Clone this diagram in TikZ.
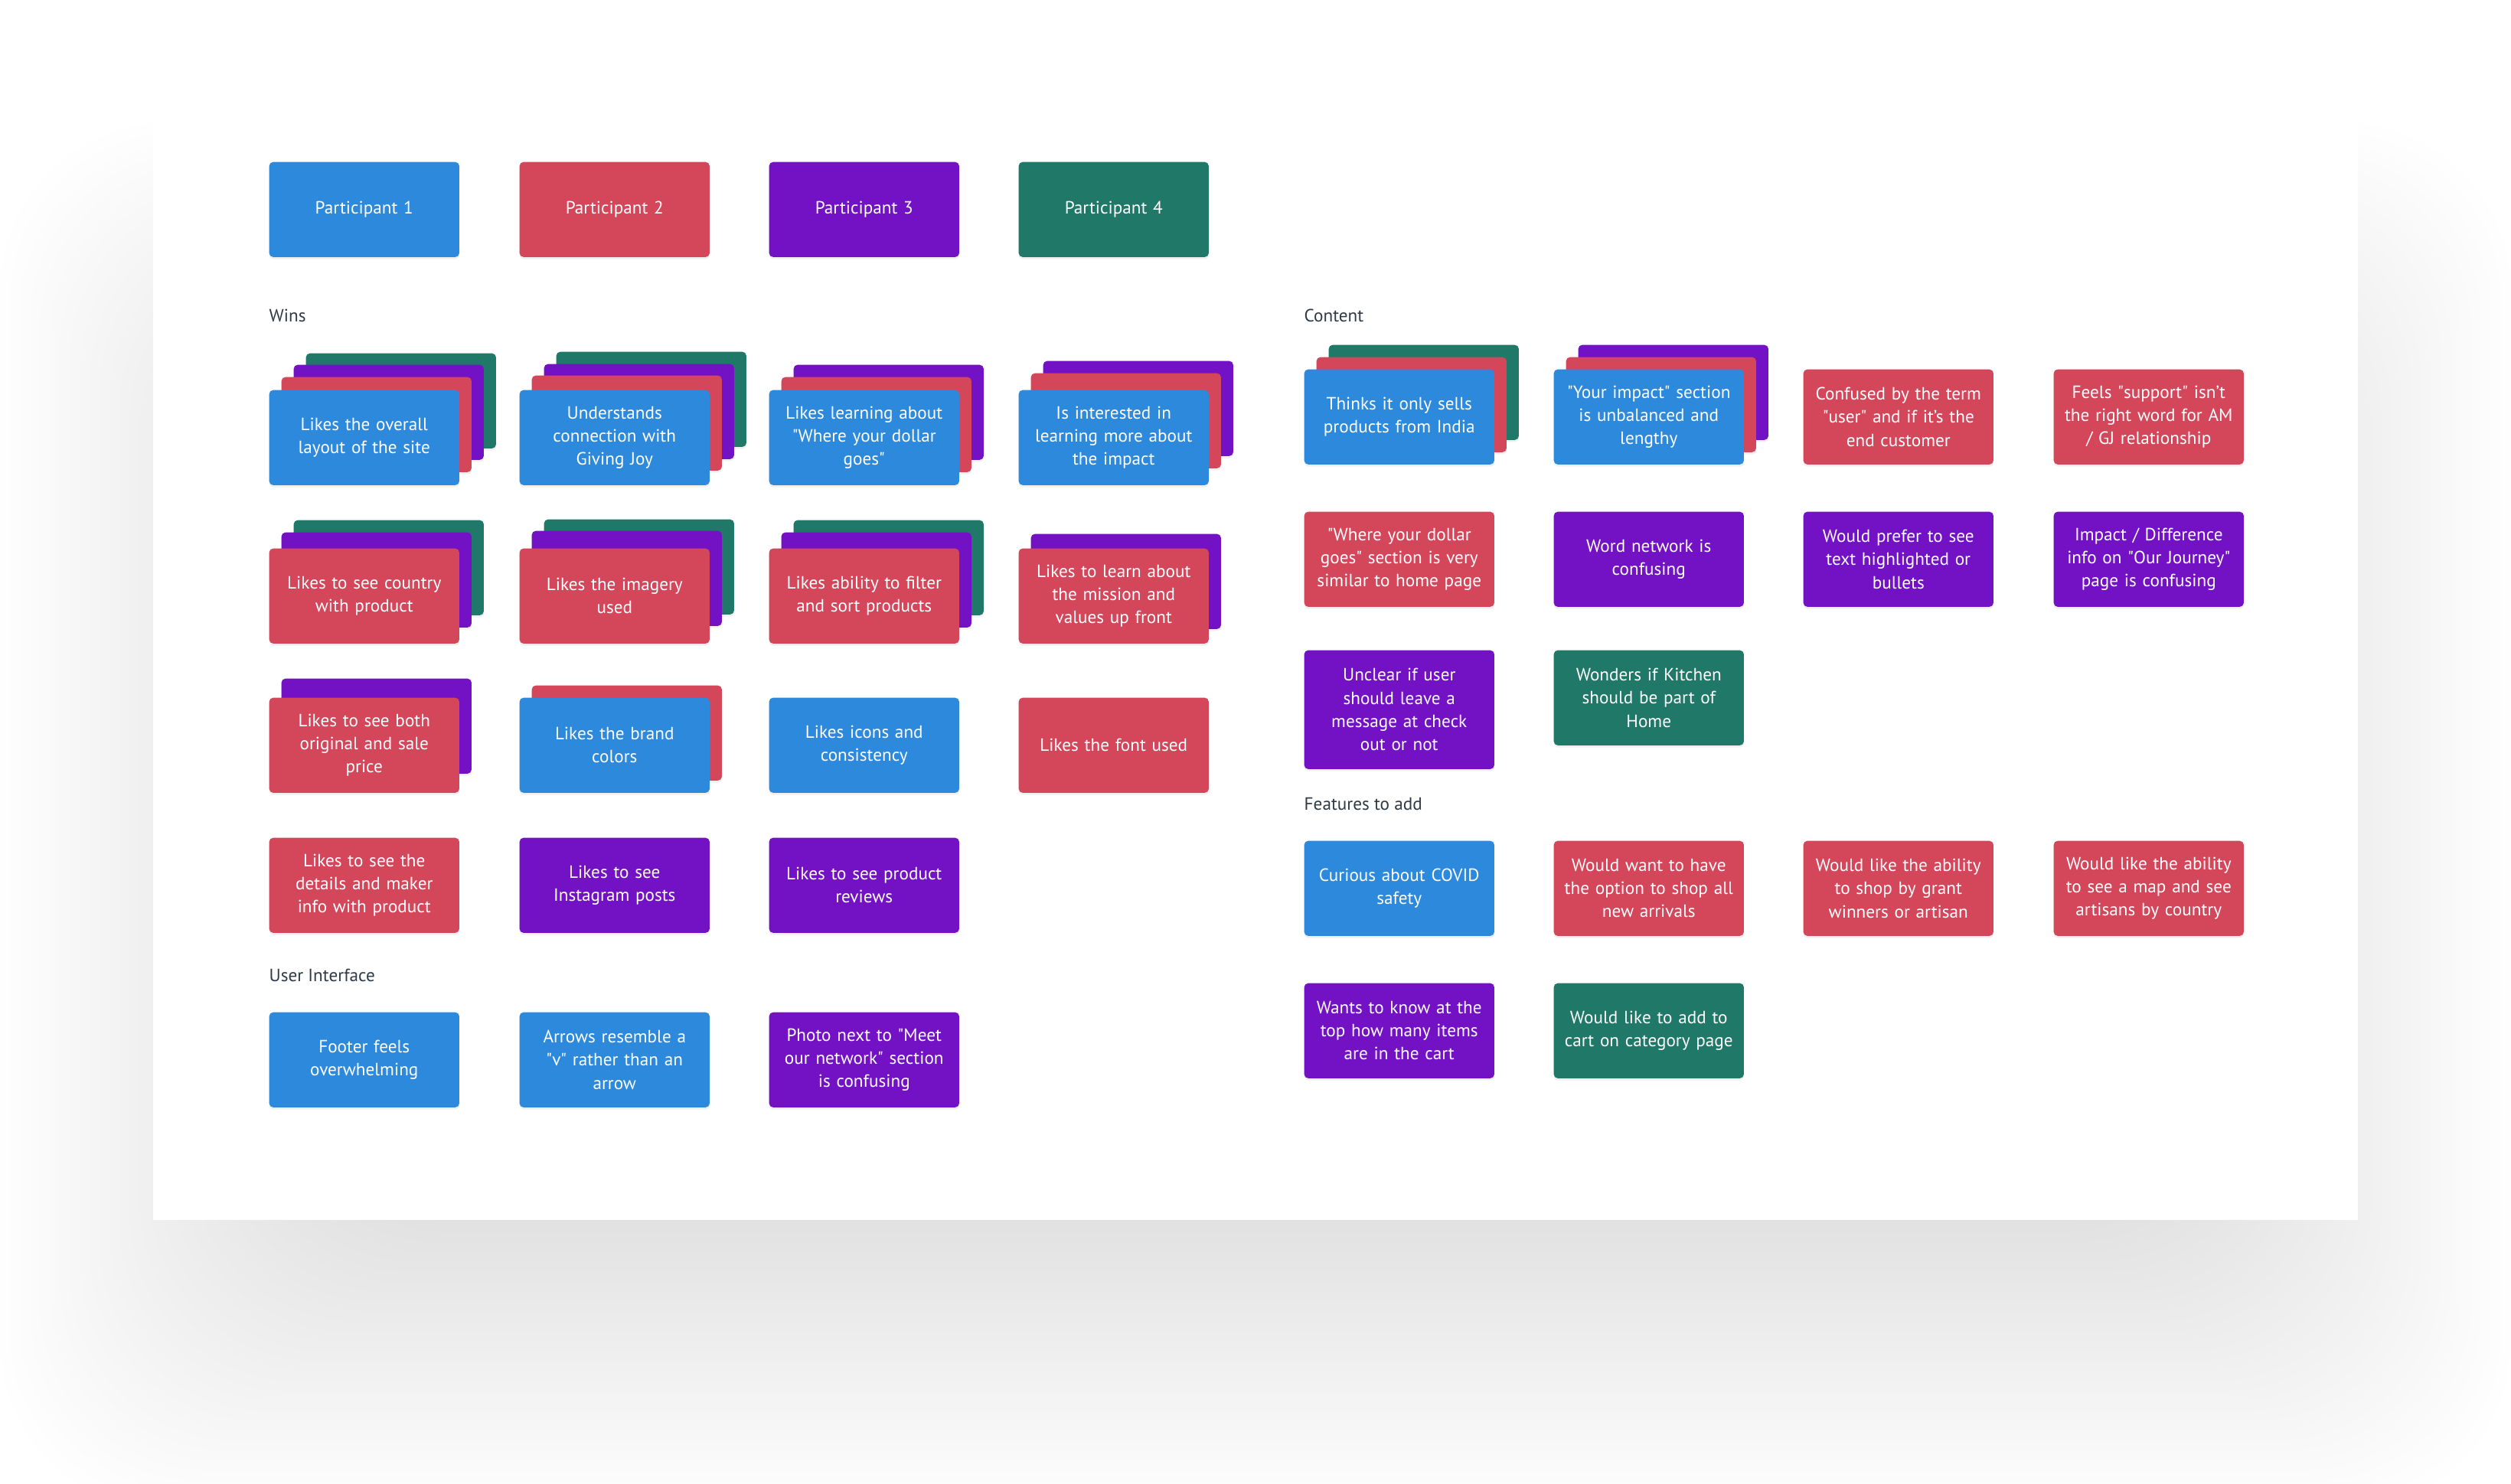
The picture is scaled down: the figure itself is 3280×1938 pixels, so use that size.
\documentclass[tikz,border=0pt]{standalone}
\usepackage{fontspec}
\setmainfont{PT Sans}
\usetikzlibrary{shadows}
\definecolor{pblue}{HTML}{2D89DB}
\definecolor{pred}{HTML}{D4465A}
\definecolor{ppurple}{HTML}{7311C4}
\definecolor{pgreen}{HTML}{207869}
\definecolor{labelgrey}{HTML}{2F3A45}

\begin{document}
\begin{tikzpicture}[
    x=0.01cm, y=-0.01cm,
    card/.style={rectangle, fill=#1, rounded corners=0.5mm, anchor=north west,
                 minimum width=2.48cm, minimum height=1.24cm, text width=2.3cm,
                 inner sep=0pt, align=center, text=white,
                 font=\fontsize{6.6}{8.6}\selectfont,
                 drop shadow={shadow xshift=0pt, shadow yshift=-0.8pt, opacity=0.12}},
    seclabel/.style={anchor=west, inner sep=0pt, text=labelgrey,
                     font=\fontsize{6.6}{8}\selectfont},
]
    % ── Canvas and board ──
    \useasboundingbox (0,0) rectangle (3280,1938);
    \fill[white] (0,0) rectangle (3280,1938);
    \foreach \r in {-260,-247,...,260}
        \fill[black, opacity=0.0031, rounded corners=2.2cm] (260-\r,420-\r) rectangle (3020+\r,1714+\r);
    \fill[white] (200,45) rectangle (3080,1594);

    % ── Coordinates: 8-column grid ──
    \def\colA{351}
    \def\colB{678}
    \def\colC{1004}
    \def\colD{1330}
    \def\colE{1703}
    \def\colF{2029}
    \def\colG{2355}
    \def\colH{2682}
    \def\q{\textquotedbl}

    % ── PARTICIPANTS ──
    \node[card=pblue]   (p1) at (\colA, 211) {Participant 1};
    \node[card=pred]    (p2) at (\colB, 211) {Participant 2};
    \node[card=ppurple] (p3) at (\colC, 211) {Participant 3};
    \node[card=pgreen]  (p4) at (\colD, 211) {Participant 4};

    % ── WINS ──
    \node[seclabel] (wins) at (\colA, 412) {Wins};

    % Wins: row 1
    \node[card=pgreen]  (w1ag) at (\colA+48, 461) {};
    \node[card=ppurple] (w1ap) at (\colA+32, 476) {};
    \node[card=pred]    (w1ar) at (\colA+16, 492) {};
    \node[card=pblue]   (w1a)  at (\colA, 509) {Likes the overall\\layout of the site};

    \node[card=pgreen]  (w1bg) at (\colB+48, 459) {};
    \node[card=ppurple] (w1bp) at (\colB+32, 475) {};
    \node[card=pred]    (w1br) at (\colB+16, 490) {};
    \node[card=pblue]   (w1b)  at (\colB, 509) {Understands\\connection with\\Giving Joy};

    \node[card=ppurple] (w1cp) at (\colC+32, 476) {};
    \node[card=pred]    (w1cr) at (\colC+16, 492) {};
    \node[card=pblue]   (w1c)  at (\colC, 509) {Likes learning about\\\q Where your dollar\\goes\q};

    \node[card=ppurple] (w1dp) at (\colD+32, 471) {};
    \node[card=pred]    (w1dr) at (\colD+16, 487) {};
    \node[card=pblue]   (w1d)  at (\colD, 509) {Is interested in\\learning more about\\the impact};

    % Wins: row 2
    \node[card=pgreen]  (w2ag) at (\colA+32, 679) {};
    \node[card=ppurple] (w2ap) at (\colA+16, 695) {};
    \node[card=pred]    (w2a)  at (\colA, 716) {Likes to see country\\with product};

    \node[card=pgreen]  (w2bg) at (\colB+32, 678) {};
    \node[card=ppurple] (w2bp) at (\colB+16, 693) {};
    \node[card=pred]    (w2b)  at (\colB, 716) {Likes the imagery\\used};

    \node[card=pgreen]  (w2cg) at (\colC+32, 679) {};
    \node[card=ppurple] (w2cp) at (\colC+16, 695) {};
    \node[card=pred]    (w2c)  at (\colC, 716) {Likes ability to filter\\and sort products};

    \node[card=ppurple] (w2dp) at (\colD+16, 697) {};
    \node[card=pred]    (w2d)  at (\colD, 716) {Likes to learn about\\the mission and\\values up front};

    % Wins: row 3
    \node[card=ppurple] (w3ap) at (\colA+16, 886) {};
    \node[card=pred]    (w3a)  at (\colA, 911) {Likes to see both\\original and sale\\price};

    \node[card=pred]    (w3br) at (\colB+16, 895) {};
    \node[card=pblue]   (w3b)  at (\colB, 911) {Likes the brand\\colors};

    \node[card=pblue]   (w3c)  at (\colC, 911) {Likes icons and\\consistency};
    \node[card=pred]    (w3d)  at (\colD, 911) {Likes the font used};

    % Wins: row 4
    \node[card=pred]    (w4a)  at (\colA, 1094) {Likes to see the\\details and maker\\info with product};
    \node[card=ppurple] (w4b)  at (\colB, 1094) {Likes to see\\Instagram posts};
    \node[card=ppurple] (w4c)  at (\colC, 1094) {Likes to see product\\reviews};

    % ── USER INTERFACE ──
    \node[seclabel] (ui) at (\colA, 1274) {User Interface};

    \node[card=pblue]   (ui1) at (\colA, 1322) {Footer feels\\overwhelming};
    \node[card=pblue]   (ui2) at (\colB, 1322) {Arrows resemble a\\\q v\q{} rather than an\\arrow};
    \node[card=ppurple] (ui3) at (\colC, 1322) {Photo next to \q Meet\\our network\q{} section\\is confusing};

    % ── CONTENT ──
    \node[seclabel] (content) at (\colE, 412) {Content};

    % Content: row 1
    \node[card=pgreen]  (c1ag) at (\colE+32, 450) {};
    \node[card=pred]    (c1ar) at (\colE+16, 466) {};
    \node[card=pblue]   (c1a)  at (\colE, 482) {Thinks it only sells\\products from India};

    \node[card=ppurple] (c1bp) at (\colF+32, 450) {};
    \node[card=pred]    (c1br) at (\colF+16, 466) {};
    \node[card=pblue]   (c1b)  at (\colF, 482) {\q Your impact\q{} section\\is unbalanced and\\lengthy};

    \node[card=pred]    (c1c)  at (\colG, 482) {Confused by the term\\\q user\q{} and if it's the\\end customer};
    \node[card=pred]    (c1d)  at (\colH, 482) {Feels \q support\q{} isn't\\the right word for AM\\/ GJ relationship};

    % Content: row 2
    \node[card=pred]    (c2a)  at (\colE, 668) {\q Where your dollar\\goes\q{} section is very\\similar to home page};
    \node[card=ppurple] (c2b)  at (\colF, 668) {Word network is\\confusing};
    \node[card=ppurple] (c2c)  at (\colG, 668) {Would prefer to see\\text highlighted or\\bullets};
    \node[card=ppurple] (c2d)  at (\colH, 668) {Impact / Difference\\info on \q Our Journey\q\\page is confusing};

    % Content: row 3
    \node[card=ppurple, minimum height=1.55cm] (c3a) at (\colE, 849) {Unclear if user\\should leave a\\message at check\\out or not};
    \node[card=pgreen]  (c3b)  at (\colF, 849) {Wonders if Kitchen\\should be part of\\Home};

    % ── FEATURES TO ADD ──
    \node[seclabel] (features) at (\colE, 1050) {Features to add};

    \node[card=pblue]   (f1a) at (\colE, 1098) {Curious about COVID\\safety};
    \node[card=pred]    (f1b) at (\colF, 1098) {Would want to have\\the option to shop all\\new arrivals};
    \node[card=pred]    (f1c) at (\colG, 1098) {Would like the ability\\to shop by grant\\winners or artisan};
    \node[card=pred]    (f1d) at (\colH, 1098) {Would like the ability\\to see a map and see\\artisans by country};

    \node[card=ppurple] (f2a) at (\colE, 1284) {Wants to know at the\\top how many items\\are in the cart};
    \node[card=pgreen]  (f2b) at (\colF, 1284) {Would like to add to\\cart on category page};

\end{tikzpicture}
\end{document}
